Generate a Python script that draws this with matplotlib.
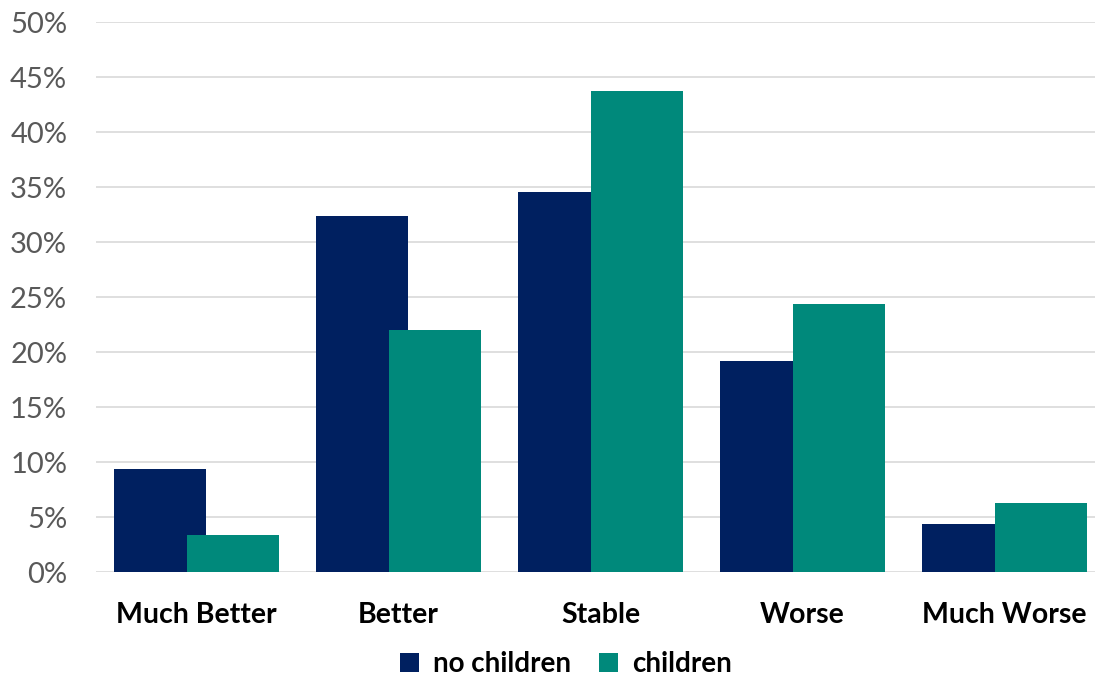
import matplotlib
matplotlib.use("Agg")
import matplotlib.pyplot as plt
import numpy as np
from matplotlib.ticker import MultipleLocator, FuncFormatter

categories = ["Much Better", "Better", "Stable", "Worse", "Much Worse"]
no_children = [9.4, 32.4, 34.6, 19.2, 4.4]
children = [3.35, 22.0, 43.8, 24.4, 6.3]
series_names = ["no children", "children"]
colors = ["#002060", "#00897B"]

plt.rcParams['font.family'] = ['Lato', 'DejaVu Sans']

fig = plt.figure(figsize=(10.95, 6.76), dpi=100)
left = 95.7 / 1095
right = 1105.5 / 1095
bottom = (676 - 572.3) / 676
top = (676 - 22.3) / 676
ax = fig.add_axes([left, bottom, right - left, top - bottom])

x = np.arange(len(categories))
w = 0.454
off = 0.181
ax.bar(x - off, no_children, width=w, color=colors[0], label=series_names[0], zorder=2)
ax.bar(x + off, children, width=w, color=colors[1], label=series_names[1], zorder=3)

ax.set_xlim(-0.5, len(categories) - 0.5)
ax.set_ylim(0, 50)
ax.yaxis.set_major_locator(MultipleLocator(5))
ax.yaxis.set_major_formatter(FuncFormatter(lambda v, p: f"{v:.0f}%"))
ax.grid(axis='y', color='#D9D9D9', linewidth=1.2, zorder=0)
ax.set_axisbelow(True)
for s in ax.spines.values():
    s.set_visible(False)
ax.tick_params(axis='y', length=0, pad=20.5, labelsize=21, labelcolor='#595959')
ax.tick_params(axis='x', length=0, pad=21.5)
ax.set_xticks(x)
ax.set_xticklabels(categories, fontsize=20.5, fontweight='bold', color='black')

leg = fig.legend(loc='center', bbox_to_anchor=(566 / 1095, 1 - 664 / 676), ncol=2,
                 frameon=False, prop={'weight': 'bold', 'size': 20},
                 handlelength=0.7, handleheight=0.7, handletextpad=0.5, columnspacing=1.0)

fig.savefig("out.png", dpi=100)
